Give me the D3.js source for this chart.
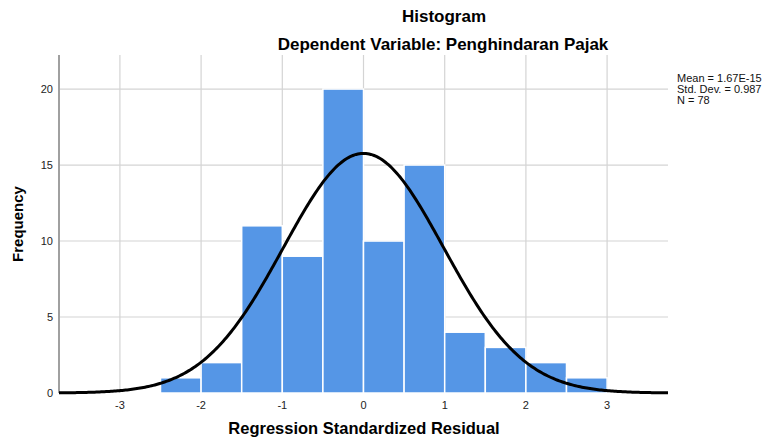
<!DOCTYPE html>
<html>
<head>
<meta charset="utf-8">
<script src="https://cdn.jsdelivr.net/npm/d3@7"></script>
<style>
  body { margin: 0; background: #fff; }
  text { font-family: Arial, "Liberation Sans", sans-serif; }
</style>
</head>
<body>
<svg id="chart" width="763" height="439"></svg>
<script>
// histogram bins (lower edge, width 0.5) and counts
const binStarts = [-2.5, -2, -1.5, -1, -0.5, 0, 0.5, 1, 1.5, 2, 2.5];
const binCounts = [1, 2, 11, 9, 20, 10, 15, 4, 3, 2, 1];
const binWidth = 0.5;
const xTicks = [-3, -2, -1, 0, 1, 2, 3];
const yTicks = [0, 5, 10, 15, 20];
const statLines = ['Mean = 1.67E-15', 'Std. Dev. = 0.987', 'N = 78'];
const mean = 1.67e-15;
const sd = 0.987;
const n = 78;

const svg = d3.select('#chart');
const plotL = 59, plotR = 668, plotT = 55, plotB = 393;

const x = d3.scaleLinear().domain([-3.75, 3.75]).range([plotL, plotR]);
const y = d3.scaleLinear().domain([0, 22.24]).range([plotB, plotT]);

// grid
svg.append('g').selectAll('line').data(xTicks).enter()
  .append('line')
  .attr('x1', (d) => x(d)).attr('x2', (d) => x(d))
  .attr('y1', plotT).attr('y2', plotB)
  .attr('stroke', '#d4d4d4').attr('stroke-width', 1.2);
svg.append('g').selectAll('line').data(yTicks.slice(1)).enter()
  .append('line')
  .attr('x1', plotL).attr('x2', plotR)
  .attr('y1', (d) => y(d)).attr('y2', (d) => y(d))
  .attr('stroke', '#d4d4d4').attr('stroke-width', 1.2);

// bars
svg.append('g').selectAll('rect').data(binStarts).enter()
  .append('rect')
  .attr('x', (d) => x(d))
  .attr('width', (d) => x(d + binWidth) - x(d))
  .attr('y', (d, i) => y(binCounts[i]))
  .attr('height', (d, i) => y(0) - y(binCounts[i]))
  .attr('fill', '#5596e6')
  .attr('stroke', '#ffffff')
  .attr('stroke-width', 1.5);

// left axis line
svg.append('line')
  .attr('x1', plotL).attr('x2', plotL).attr('y1', plotT).attr('y2', plotB)
  .attr('stroke', '#a0a0a0').attr('stroke-width', 2);

// normal curve
const pdf = (v) => Math.exp(-0.5 * ((v - mean) / sd) ** 2) / (sd * Math.sqrt(2 * Math.PI));
const curvePts = d3.range(-3.75, 3.7501, 0.02).map((v) => [v, n * binWidth * pdf(v)]);
svg.append('path')
  .datum(curvePts)
  .attr('d', d3.line().x((d) => x(d[0])).y((d) => y(d[1])))
  .attr('fill', 'none')
  .attr('stroke', '#000')
  .attr('stroke-width', 3);

// tick labels
svg.append('g').selectAll('text').data(xTicks).enter()
  .append('text')
  .attr('x', (d) => x(d)).attr('y', 409)
  .attr('text-anchor', 'middle')
  .attr('font-size', 11).attr('fill', '#222')
  .text((d) => d);
svg.append('g').selectAll('text').data(yTicks).enter()
  .append('text')
  .attr('x', 53).attr('y', (d) => y(d) + 4)
  .attr('text-anchor', 'end')
  .attr('font-size', 11).attr('fill', '#222')
  .text((d) => d);

// titles
svg.append('text').attr('x', 444).attr('y', 22)
  .attr('text-anchor', 'middle').attr('font-size', 17).attr('font-weight', 'bold')
  .text('Histogram');
svg.append('text').attr('x', 443).attr('y', 50)
  .attr('text-anchor', 'middle').attr('font-size', 17).attr('font-weight', 'bold')
  .text('Dependent Variable: Penghindaran Pajak');
svg.append('text').attr('x', 364).attr('y', 434)
  .attr('text-anchor', 'middle').attr('font-size', 16.5).attr('font-weight', 'bold')
  .text('Regression Standardized Residual');
svg.append('text')
  .attr('transform', 'translate(23,224) rotate(-90)')
  .attr('text-anchor', 'middle').attr('font-size', 15).attr('font-weight', 'bold')
  .text('Frequency');

// stats box
svg.append('g').selectAll('text').data(statLines).enter()
  .append('text')
  .attr('x', 677).attr('y', (d, i) => 82 + i * 11)
  .attr('font-size', 11).attr('fill', '#111')
  .text((d) => d);
</script>
</body>
</html>
